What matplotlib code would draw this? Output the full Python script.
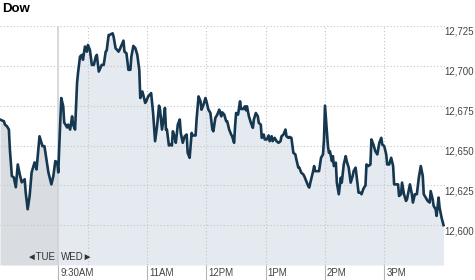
import numpy as np
import matplotlib
matplotlib.use("Agg")
from matplotlib import pyplot as plt
from matplotlib.transforms import blended_transform_factory

plt.rcParams['font.family'] = ['Liberation Sans', 'DejaVu Sans']

# minutes from Wednesday 9:30AM open (Tuesday's last hour is negative)
tue_min = [-59, -55, -54, -52, -50, -49, -47, -45, -43, -41, -39, -37, -34, -33, -31,
           -29, -27, -24, -22, -19, -16, -14, -12, -10, -7, -5, -3, -1, 0]
tue_val = [12666.3, 12665.2, 12663.1, 12662.1, 12660.0, 12647.5, 12630.8, 12630.0, 12623.8,
           12638.1, 12631.9, 12626.9, 12628.8, 12620.6, 12610.0, 12618.3, 12633.1, 12639.4,
           12635.0, 12655.8, 12649.6, 12649.6, 12641.3, 12633.1, 12625.6, 12630.8, 12640.2,
           12639.4, 12633.1]

wed_min = [1, 3, 5, 6, 9, 10, 12, 14, 15, 17, 19, 20, 22, 24, 25, 27, 29, 30, 32, 34,
           36, 38, 39, 41, 44, 46, 48, 49, 51, 52, 55, 56, 58, 61, 62, 66, 67, 69, 71, 73,
           74, 76, 78, 80, 82, 83, 85, 86, 88, 89, 91, 94, 96, 98, 100, 102, 103, 105, 107, 108,
           109, 110, 112, 113, 115, 116, 118, 119, 121, 123, 124, 126, 128, 130, 131, 133, 135, 136, 139, 140,
           142, 144, 145, 147, 149, 150, 152, 154, 156, 157, 159, 161, 163, 165, 166, 168, 170, 171, 173, 175,
           176, 178, 179, 180, 182, 184, 185, 187, 189, 190, 191, 193, 195, 197, 198, 200, 202, 203, 205, 206,
           208, 209, 211, 213, 214, 216, 217, 219, 221, 223, 225, 226, 228, 230, 231, 233, 234, 236, 238, 240,
           241, 243, 244, 246, 248, 249, 251, 253, 254, 256, 258, 259, 260, 262, 264, 266, 268, 269, 270, 271,
           273, 274, 275, 277, 278, 279, 281, 282, 284, 286, 287, 289, 291, 292, 294, 296, 298, 299, 301, 302,
           304, 306, 307, 309, 311, 312, 314, 316, 317, 319, 321, 323, 325, 327, 328, 330, 332, 333, 335, 337,
           339, 340, 342, 344, 345, 347, 348, 350, 352, 353, 354, 356, 358, 359, 361, 363, 365, 367, 369, 370,
           372, 374, 376, 377, 379, 380, 382, 383, 385, 386, 388, 390]
wed_val = [12649.6, 12679.8, 12674.6, 12664.4, 12661.3, 12663.1, 12660.0, 12668.3, 12663.1, 12660.0,
           12689.2, 12695.6, 12705.8, 12706.9, 12703.8, 12712.1, 12708.9, 12713.1, 12710.0, 12700.6,
           12700.6, 12705.8, 12706.9, 12696.4, 12700.6, 12700.6, 12708.9, 12709.6, 12719.4, 12719.4,
           12720.4, 12718.3, 12711.1, 12708.9, 12710.0, 12715.8, 12708.9, 12707.9, 12697.5, 12697.5,
           12705.8, 12712.5, 12711.1, 12706.9, 12697.5, 12679.8, 12683.9, 12681.9, 12676.7, 12677.7,
           12680.8, 12682.9, 12670.4, 12652.7, 12662.1, 12675.0, 12672.5, 12660.0, 12668.3, 12673.6,
           12660.0, 12660.0, 12650.0, 12650.6, 12650.0, 12658.9, 12654.8, 12651.7, 12663.1, 12666.3,
           12657.9, 12651.7, 12655.8, 12656.9, 12645.4, 12642.3, 12657.9, 12656.3, 12656.3, 12666.3,
           12680.8, 12677.7, 12672.5, 12675.6, 12679.8, 12677.7, 12672.5, 12670.4, 12660.0, 12658.9,
           12667.3, 12669.4, 12672.5, 12668.3, 12670.8, 12669.4, 12665.2, 12665.2, 12660.0, 12656.9,
           12655.8, 12651.7, 12662.1, 12670.4, 12669.4, 12677.7, 12672.9, 12672.9, 12674.6, 12672.1,
           12674.6, 12668.3, 12664.2, 12661.1, 12666.3, 12670.4, 12668.3, 12664.2, 12663.1, 12654.8,
           12656.9, 12653.8, 12653.8, 12656.3, 12652.7, 12655.8, 12652.7, 12654.8, 12652.7, 12651.7,
           12652.7, 12655.8, 12656.9, 12660.0, 12655.8, 12654.8, 12655.4, 12654.8, 12645.4, 12644.4,
           12641.3, 12636.1, 12636.1, 12632.9, 12631.9, 12630.8, 12627.7, 12624.6, 12623.6, 12628.8,
           12633.9, 12637.1, 12633.9, 12633.9, 12633.9, 12642.3, 12644.4, 12653.8, 12675.0, 12666.3,
           12649.6, 12645.4, 12646.4, 12640.2, 12643.3, 12637.1, 12639.2, 12626.7, 12619.4, 12629.8,
           12626.7, 12638.1, 12643.3, 12640.2, 12636.1, 12626.7, 12630.8, 12633.9, 12636.1, 12630.8,
           12620.4, 12620.4, 12619.4, 12623.0, 12625.0, 12638.1, 12637.1, 12638.1, 12653.8, 12650.6,
           12646.4, 12644.4, 12651.7, 12654.8, 12650.6, 12649.6, 12644.4, 12638.1, 12638.1, 12642.3,
           12637.1, 12625.6, 12625.6, 12625.6, 12618.3, 12619.4, 12626.7, 12619.4, 12615.2, 12616.3,
           12619.4, 12625.6, 12619.4, 12614.2, 12619.4, 12619.4, 12629.8, 12637.1, 12630.8, 12619.4,
           12617.3, 12615.2, 12614.2, 12621.4, 12616.3, 12612.1, 12610.0, 12605.8, 12617.3, 12611.1,
           12604.8, 12600.0]

y_ticks = [12600, 12625, 12650, 12675, 12700, 12725]
y_labels = ["12,600", "12,625", "12,650", "12,675", "12,700", "12,725"]
x_ticks = [0, 90, 150, 210, 270, 330]
x_labels = ["9:30AM", "11AM", "12PM", "1PM", "2PM", "3PM"]
x_grid = [30, 90, 150, 210, 270, 330]

t = np.array(tue_min + wed_min)
v = np.array(tue_val + wed_val)
ymin, ymax = 12575, 12725

fig = plt.figure(figsize=(4.75, 2.8), dpi=100)
ax = fig.add_axes([0, 15 / 280, 445 / 475, 239 / 280])
ax.set_xlim(-59, 391.5)
ax.set_ylim(ymin, ymax)

ax.fill_between(t, v, ymin, where=t <= 0, color="#d9dde1", lw=0, zorder=1)
ax.fill_between(t, v, ymin, where=t >= 0, color="#e5eaf1", lw=0, zorder=1)

dot = (0, (1, 2))
for yy in y_ticks + [ymin]:
    ax.axhline(yy, color="#c4c4c4", lw=0.8, ls=dot, zorder=2)
for xx in x_grid:
    ax.axvline(xx, color="#c4c4c4", lw=0.8, ls=dot, zorder=2)
ax.axvline(0, color="#cdd3da", lw=1.2, zorder=2)

ax.plot(t, v, color="#15374f", lw=1.9, solid_joinstyle="round", zorder=3)

for s in ax.spines.values():
    s.set_visible(False)
ax.set_xticks(x_ticks)
ax.set_xticklabels([])
ax.set_yticks([])
ax.tick_params(axis="x", direction="out", length=11, width=0.8, color="#b5b5b5")

for xx, lab in zip(x_ticks, x_labels):
    ax.annotate(lab, (xx, 0), xycoords=("data", "axes fraction"), xytext=(2, -3),
                textcoords="offset pixels", ha="left", va="top", fontsize=7, color="#444444")

tr = blended_transform_factory(fig.transFigure, ax.transData)
for yy, lab in zip(y_ticks, y_labels):
    ax.annotate(lab, (1.0, yy), xycoords=tr, xytext=(-1, -1), textcoords="offset pixels",
                ha="right", va="top", fontsize=7, color="#444444", annotation_clip=False)

ax.annotate("\u25c4TUE", (0, 0), xycoords=("data", "axes fraction"), xytext=(-3, 3),
            textcoords="offset pixels", ha="right", va="bottom", fontsize=7, color="#333333")
ax.annotate("WED\u25ba", (0, 0), xycoords=("data", "axes fraction"), xytext=(3, 3),
            textcoords="offset pixels", ha="left", va="bottom", fontsize=7, color="#333333")

fig.text(2 / 475, 1 - 3 / 280, "Dow", ha="left", va="top", fontsize=9.5,
         fontweight="bold", color="#000000")

fig.savefig("out.png", dpi=100)
